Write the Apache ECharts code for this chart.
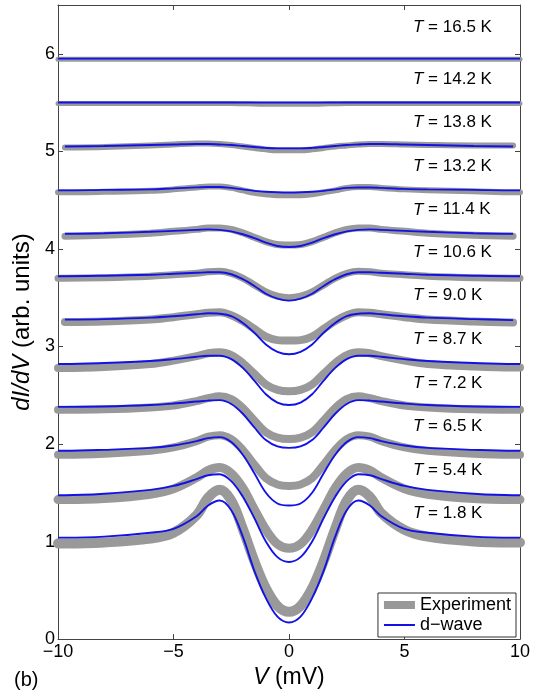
<!DOCTYPE html>
<html>
<head>
<meta charset="utf-8">
<script src="https://cdn.jsdelivr.net/npm/echarts@6/dist/echarts.min.js"></script>
<style>
  html, body { margin: 0; padding: 0; background: #fff; }
  #chart { width: 543px; height: 694px; }
</style>
</head>
<body>
<div id="chart"></div>
<script>
// bias voltage grid (mV)
const V = [-10, -9.7, -8, -6, -5, -4, -3.5, -3, -2.5, -2, -1.5, -1, -0.5, 0, 0.5, 1, 1.5, 2, 2.5, 3, 3.5, 4, 5, 6, 8, 9.7, 10];

const temps = ["16.5", "14.2", "13.8", "13.2", "11.4", "10.6", "9.0", "8.7", "7.2", "6.5", "5.4", "1.8"];

// measured dI/dV (grey, offset)
const exp165 = [5.945, 5.945, 5.945, 5.945, 5.945, 5.945, 5.945, 5.945, 5.945, 5.945, 5.945, 5.945, 5.945, 5.945, 5.945, 5.945, 5.945, 5.945, 5.945, 5.945, 5.945, 5.945, 5.945, 5.945, 5.945, 5.945, 5.945];
const exp142 = [5.49, 5.49, 5.49, 5.49, 5.49, 5.49, 5.49, 5.49, 5.49, 5.488, 5.485, 5.483, 5.482, 5.482, 5.482, 5.483, 5.485, 5.488, 5.49, 5.49, 5.49, 5.49, 5.49, 5.49, 5.49, 5.49, 5.49];
const exp138 = [null, 5.04, 5.045, 5.06, 5.07, 5.08, 5.08, 5.075, 5.065, 5.05, 5.035, 5.02, 5.01, 5.01, 5.01, 5.02, 5.035, 5.05, 5.06, 5.07, 5.075, 5.075, 5.07, 5.065, 5.06, 5.06, null];
const exp132 = [4.58, 4.58, 4.585, 4.595, 4.61, 4.63, 4.64, 4.64, 4.625, 4.6, 4.575, 4.56, 4.55, 4.55, 4.55, 4.56, 4.58, 4.6, 4.625, 4.635, 4.635, 4.625, 4.61, 4.6, 4.59, 4.58, 4.58];
const exp114 = [null, 4.13, 4.14, 4.16, 4.18, 4.2, 4.215, 4.215, 4.2, 4.165, 4.12, 4.075, 4.045, 4.04, 4.045, 4.075, 4.12, 4.165, 4.2, 4.215, 4.215, 4.2, 4.18, 4.16, 4.14, 4.13, null];
const exp106 = [3.7, 3.7, 3.705, 3.72, 3.735, 3.75, 3.765, 3.77, 3.75, 3.7, 3.63, 3.56, 3.515, 3.5, 3.515, 3.56, 3.63, 3.7, 3.75, 3.77, 3.765, 3.75, 3.735, 3.72, 3.705, 3.7, 3.7];
const exp90 = [null, 3.25, 3.255, 3.275, 3.3, 3.33, 3.345, 3.35, 3.32, 3.26, 3.18, 3.1, 3.065, 3.06, 3.065, 3.1, 3.18, 3.26, 3.32, 3.35, 3.345, 3.33, 3.3, 3.275, 3.255, 3.245, null];
const exp87 = [2.78, 2.78, 2.79, 2.82, 2.855, 2.9, 2.93, 2.94, 2.91, 2.83, 2.72, 2.61, 2.555, 2.54, 2.555, 2.61, 2.72, 2.83, 2.91, 2.94, 2.93, 2.9, 2.855, 2.82, 2.795, 2.785, 2.785];
const exp72 = [2.35, 2.35, 2.355, 2.375, 2.395, 2.44, 2.47, 2.49, 2.46, 2.37, 2.24, 2.12, 2.065, 2.05, 2.065, 2.12, 2.24, 2.37, 2.46, 2.49, 2.47, 2.44, 2.395, 2.375, 2.355, 2.35, 2.35];
const exp65 = [1.89, 1.89, 1.9, 1.93, 1.965, 2.03, 2.075, 2.09, 2.05, 1.94, 1.79, 1.65, 1.585, 1.57, 1.585, 1.65, 1.79, 1.94, 2.05, 2.09, 2.075, 2.03, 1.965, 1.93, 1.9, 1.89, 1.89];
const exp54 = [1.43, 1.43, 1.44, 1.485, 1.54, 1.655, 1.73, 1.76, 1.7, 1.55, 1.33, 1.12, 0.975, 0.93, 0.975, 1.12, 1.33, 1.55, 1.7, 1.76, 1.73, 1.655, 1.54, 1.485, 1.44, 1.43, 1.43];
const exp18 = [0.98, 0.98, 0.99, 1.03, 1.09, 1.27, 1.45, 1.53, 1.42, 1.13, 0.8, 0.52, 0.34, 0.28, 0.34, 0.52, 0.8, 1.13, 1.42, 1.53, 1.46, 1.29, 1.12, 1.05, 1.0, 0.99, 0.99];

// d-wave fits (blue)
const fit165 = [5.95, 5.95, 5.95, 5.95, 5.95, 5.95, 5.95, 5.95, 5.95, 5.95, 5.95, 5.95, 5.95, 5.95, 5.95, 5.95, 5.95, 5.95, 5.95, 5.95, 5.95, 5.95, 5.95, 5.95, 5.95, 5.95, 5.95];
const fit142 = [5.5, 5.5, 5.5, 5.5, 5.5, 5.5, 5.5, 5.5, 5.5, 5.5, 5.5, 5.5, 5.5, 5.5, 5.5, 5.5, 5.5, 5.5, 5.5, 5.5, 5.5, 5.5, 5.5, 5.5, 5.5, 5.5, 5.5];
const fit138 = [null, 5.05, 5.055, 5.065, 5.07, 5.075, 5.075, 5.07, 5.065, 5.055, 5.045, 5.035, 5.03, 5.03, 5.03, 5.035, 5.045, 5.055, 5.065, 5.07, 5.075, 5.075, 5.07, 5.065, 5.055, 5.05, null];
const fit132 = [4.6, 4.6, 4.605, 4.61, 4.62, 4.63, 4.635, 4.635, 4.625, 4.61, 4.595, 4.585, 4.58, 4.578, 4.58, 4.585, 4.595, 4.61, 4.625, 4.63, 4.63, 4.625, 4.615, 4.61, 4.605, 4.6, 4.6];
const fit114 = [null, 4.155, 4.16, 4.175, 4.185, 4.195, 4.2, 4.195, 4.18, 4.15, 4.11, 4.065, 4.03, 4.02, 4.03, 4.065, 4.11, 4.15, 4.18, 4.195, 4.2, 4.195, 4.185, 4.175, 4.16, 4.155, null];
const fit106 = [3.72, 3.72, 3.725, 3.735, 3.745, 3.755, 3.76, 3.76, 3.74, 3.69, 3.62, 3.54, 3.49, 3.47, 3.49, 3.54, 3.62, 3.69, 3.74, 3.76, 3.76, 3.755, 3.745, 3.735, 3.725, 3.72, 3.72];
const fit90 = [null, 3.275, 3.28, 3.295, 3.31, 3.33, 3.34, 3.335, 3.31, 3.24, 3.14, 3.02, 2.945, 2.92, 2.945, 3.02, 3.14, 3.24, 3.31, 3.335, 3.34, 3.33, 3.31, 3.295, 3.28, 3.27, null];
const fit87 = [2.82, 2.82, 2.83, 2.85, 2.87, 2.895, 2.905, 2.905, 2.87, 2.78, 2.65, 2.51, 2.425, 2.4, 2.425, 2.51, 2.65, 2.78, 2.87, 2.905, 2.905, 2.895, 2.87, 2.85, 2.83, 2.82, 2.82];
const fit72 = [2.38, 2.38, 2.385, 2.4, 2.415, 2.435, 2.445, 2.45, 2.41, 2.31, 2.17, 2.04, 1.975, 1.96, 1.975, 2.04, 2.17, 2.31, 2.41, 2.45, 2.445, 2.435, 2.415, 2.4, 2.385, 2.38, 2.38];
const fit65 = [1.93, 1.93, 1.94, 1.96, 1.985, 2.03, 2.06, 2.07, 2.02, 1.89, 1.7, 1.5, 1.39, 1.37, 1.39, 1.5, 1.7, 1.89, 2.02, 2.07, 2.06, 2.03, 1.985, 1.96, 1.94, 1.93, 1.93];
const fit54 = [1.475, 1.475, 1.49, 1.53, 1.57, 1.64, 1.68, 1.69, 1.62, 1.46, 1.24, 1.0, 0.84, 0.79, 0.84, 1.0, 1.24, 1.46, 1.62, 1.69, 1.68, 1.64, 1.57, 1.53, 1.49, 1.475, 1.475];
const fit18 = [1.04, 1.04, 1.05, 1.09, 1.13, 1.26, 1.37, 1.42, 1.32, 1.05, 0.7, 0.42, 0.23, 0.17, 0.23, 0.42, 0.7, 1.05, 1.32, 1.42, 1.37, 1.26, 1.13, 1.09, 1.05, 1.04, 1.04];

const expCurves = [exp165, exp142, exp138, exp132, exp114, exp106, exp90, exp87, exp72, exp65, exp54, exp18];
const fitCurves = [fit165, fit142, fit138, fit132, fit114, fit106, fit90, fit87, fit72, fit65, fit54, fit18];

const GREY = "#999999";
const BLUE = "#1212e6";
const FONT = "Liberation Sans, Arial, Helvetica, sans-serif";
// noisier data look thicker at low T
const greyWidth = [5, 5, 6, 6, 7, 7, 8, 8, 8, 8, 9, 10];

const chart = echarts.init(document.getElementById("chart"), null, { renderer: "canvas" });

const pts = arr => V.map((v, j) => [v, arr[j]]);
const minus = v => String(v).replace("-", "\u2212");

const series = [];
expCurves.forEach((arr, i) => {
  series.push({
    name: "Experiment",
    type: "line",
    data: pts(arr),
    symbol: "none",
    smooth: 0.35,
    silent: true,
    z: 2,
    itemStyle: { color: GREY },
    lineStyle: { color: GREY, width: greyWidth[i], cap: "round", join: "round" }
  });
});
fitCurves.forEach(arr => {
  series.push({
    name: "d\u2212wave",
    type: "line",
    data: pts(arr),
    symbol: "none",
    smooth: 0.35,
    silent: true,
    z: 3,
    itemStyle: { color: BLUE },
    lineStyle: { color: BLUE, width: 1.9 }
  });
});

const axisLine = { onZero: false, lineStyle: { color: "#444", width: 1 } };
const tick = { inside: true, length: 5, lineStyle: { color: "#444" } };

chart.setOption({
  animation: false,
  backgroundColor: "#fff",
  textStyle: { fontFamily: FONT },
  grid: { left: 58, right: 23, top: 5, bottom: 52 },
  legend: {
    right: 27,
    bottom: 57,
    orient: "vertical",
    itemWidth: 31,
    itemHeight: 8,
    itemGap: 2,
    padding: [3, 5, 3, 6],
    borderColor: "#333",
    borderWidth: 1,
    borderRadius: 0,
    backgroundColor: "#fff",
    textStyle: { fontSize: 18, color: "#000", fontFamily: FONT },
    data: [
      { name: "Experiment", icon: "path://M0,0H31V8H0Z", itemStyle: { color: GREY, borderWidth: 0 } },
      { name: "d\u2212wave", icon: "path://M0,0H31V2H0Z", itemStyle: { color: BLUE, borderWidth: 0 } }
    ]
  },
  xAxis: [
    {
      type: "value", min: -10, max: 10, interval: 5, position: "bottom",
      axisLine, axisTick: tick, splitLine: { show: false },
      axisLabel: { color: "#000", fontSize: 18, margin: 4, formatter: minus },
      name: "{i|V} (mV)",
      nameLocation: "middle",
      nameGap: 24,
      nameTextStyle: {
        fontSize: 23, color: "#000",
        rich: { i: { fontStyle: "italic", fontSize: 23, color: "#000" } }
      }
    },
    {
      type: "value", min: -10, max: 10, interval: 5, position: "top",
      axisLine, axisTick: tick, splitLine: { show: false }, axisLabel: { show: false }
    }
  ],
  yAxis: [
    {
      type: "value", min: 0, max: 6.5, interval: 1, position: "left",
      axisLine, axisTick: tick, splitLine: { show: false },
      axisLabel: { color: "#000", fontSize: 18, margin: 3, showMaxLabel: false },
      name: "{i|dI/dV} (arb. units)",
      nameLocation: "middle",
      nameGap: 9,
      nameTextStyle: {
        fontSize: 24, color: "#000",
        rich: { i: { fontStyle: "italic", fontSize: 24, color: "#000" } }
      }
    },
    {
      type: "value", min: 0, max: 6.5, interval: 1, position: "right",
      axisLine, axisTick: tick, splitLine: { show: false }, axisLabel: { show: false }
    }
  ],
  series
});

// temperature tags sit just above each curve's right-hand tail
const tags = temps.map((t, i) => {
  const y = chart.convertToPixel({ yAxisIndex: 0 }, fitCurves[i][24]);
  return {
    type: "text",
    left: 413,
    top: y - (i === 0 ? 30 : 22) - 10,
    style: {
      text: "{i|T} = " + t + " K",
      fontSize: 17,
      fontFamily: FONT,
      fill: "#000",
      rich: { i: { fontStyle: "italic", fontSize: 17, fontFamily: FONT, fill: "#000" } }
    }
  };
});
tags.push({
  type: "text",
  left: 14,
  top: 670,
  style: { text: "(b)", fontSize: 20, fontFamily: FONT, fill: "#000" }
});
chart.setOption({ graphic: tags });
</script>
</body>
</html>
